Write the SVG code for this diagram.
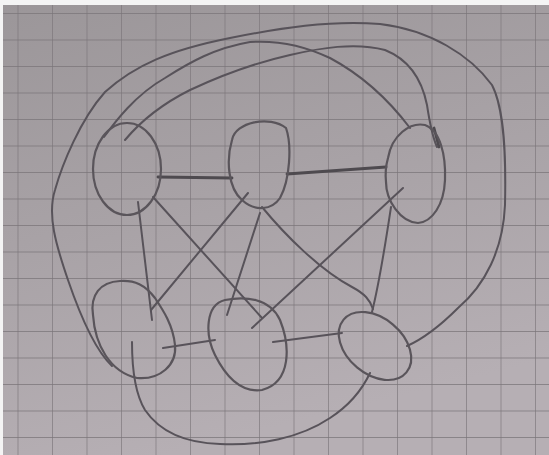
<svg xmlns="http://www.w3.org/2000/svg" width="549" height="455" viewBox="0 0 549 455">
<defs>
<linearGradient id="paper" x1="0" y1="0" x2="0.3" y2="1">
<stop offset="0" stop-color="#9b9699"/>
<stop offset="0.5" stop-color="#a8a2a6"/>
<stop offset="1" stop-color="#b6afb4"/>
</linearGradient>
<pattern id="grid" x="17.5" y="13" width="34.5" height="26.5" patternUnits="userSpaceOnUse">
<path d="M0,0 V26.5 M0,0 H34.5" fill="none" stroke="#7a7579" stroke-width="1.3"/>
</pattern>
<style>
.pen{fill:none;stroke:#58535a;stroke-width:2;stroke-linecap:round;stroke-linejoin:round}
.node{fill:none;stroke:#5a555b;stroke-width:2.2}
.thick{stroke-width:2.8;stroke:#4e4a4f}
</style>
</defs>
<rect width="549" height="455" fill="url(#paper)"/>
<rect width="549" height="455" fill="url(#grid)"/>
<rect x="0" y="0" width="549" height="5" fill="#f4f4f4"/>
<rect x="0" y="0" width="3" height="455" fill="#f4f4f4"/>
<g id="connectors" class="pen">
<path class="thick" d="M158,177 L232,178"/>
<path class="thick" d="M287,174 L386,167"/>
<path d="M138,202 L152,320"/>
<path d="M153,197 L262,318"/>
<path d="M248,193 L151,310"/>
<path d="M260,213 L227,315"/>
<path d="M403,188 L252,328"/>
<path d="M391,207 C386,240 380,280 372,312"/>
<path d="M262,207 C285,235 320,270 352,287 C365,294 370,300 373,309"/>
<path d="M163,348 L215,340"/>
<path d="M273,342 L342,333"/>
<path d="M132,342 C132,360 134,392 145,410 C160,432 185,443 220,444 C260,446 300,438 330,418 C350,405 362,390 370,373"/>
<path d="M112,366 C95,350 80,315 68,280 C56,245 47,215 55,190 C62,165 80,120 105,92 C135,65 170,50 230,38 C280,28 330,20 380,24 C430,30 470,55 492,85 C505,110 506,160 505,205 C503,250 485,285 458,308 C440,326 425,338 407,346"/>
<path d="M104,137 C115,122 135,95 165,78 C190,62 215,48 250,42 C280,40 305,46 330,58 C360,74 385,95 410,128"/>
<path d="M125,140 C140,122 160,105 190,90 C220,76 250,64 290,55 C320,48 355,42 385,50 C410,60 422,80 427,105 C430,125 433,138 437,147"/>
<path class="thick" d="M434,128 L439,147"/>
</g>
<g id="node-a"><ellipse class="node" cx="127" cy="169" rx="34" ry="46"/></g>
<g id="node-b"><path class="node" d="M232,140 C235,122 270,115 286,128 C292,145 290,180 280,198 C272,210 255,212 242,200 C228,188 226,160 232,140 Z"/></g>
<g id="node-c"><path class="node" d="M388,158 C392,135 410,122 425,125 C440,130 446,155 445,180 C444,205 432,222 418,223 C400,222 386,200 386,182 C385,172 386,165 388,158 Z"/></g>
<g id="node-d"><path class="node" d="M120,281 C100,282 90,295 93,315 C95,345 110,372 137,378 C160,380 177,365 175,345 C173,325 163,310 155,298 C145,285 135,280 120,281 Z"/></g>
<g id="node-e"><path class="node" d="M225,300 C245,296 270,298 280,320 C290,345 292,382 262,390 C240,393 225,375 215,355 C205,335 205,305 225,300 Z"/></g>
<g id="node-f"><ellipse class="node" cx="375" cy="346" rx="41" ry="28" transform="rotate(40 375 346)"/></g>
</svg>
